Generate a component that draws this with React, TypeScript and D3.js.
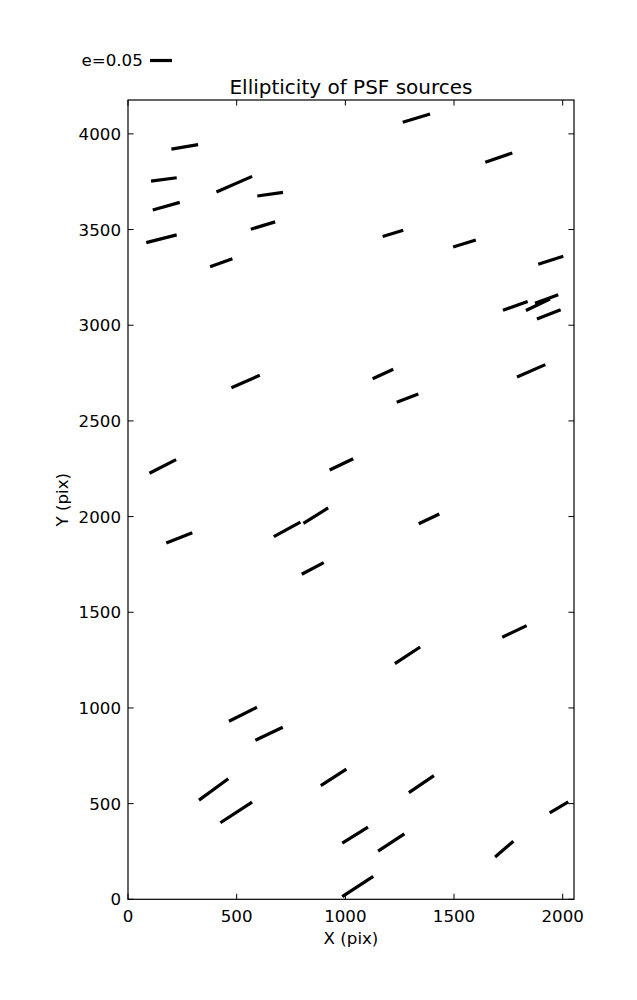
import React from "react";
import * as d3 from "d3";

// Source positions (pix), ellipticity and orientation angle (deg, counter-clockwise)
const srcX = [261, 165, 489, 654, 176, 621, 154, 429, 1327, 1706, 1219, 1548, 1945, 1782, 1886, 1926, 1936, 541, 160, 982, 236, 732, 864, 850, 1173, 1286, 1855, 1385, 529, 649, 946, 394, 498, 1778, 1286, 1350, 1983, 1045, 1211, 1731, 1057];
const srcY = [3932, 3762, 3737, 3685, 3622, 3521, 3452, 3327, 4082, 3876, 3480, 3427, 3340, 3101, 3107, 3137, 3057, 2706, 2262, 2273, 1889, 1933, 2005, 1729, 2745, 2619, 2762, 1988, 967, 865, 637, 574, 454, 1400, 1275, 602, 481, 335, 297, 262, 67];
const srcE = [0.0616, 0.0589, 0.0886, 0.059, 0.0638, 0.0577, 0.0713, 0.0539, 0.0649, 0.065, 0.049, 0.054, 0.0597, 0.0594, 0.0605, 0.0564, 0.0579, 0.0704, 0.068, 0.0594, 0.0636, 0.0687, 0.0661, 0.0565, 0.0515, 0.0526, 0.0701, 0.0517, 0.0711, 0.0689, 0.0691, 0.0823, 0.086, 0.0614, 0.0689, 0.0687, 0.0491, 0.0688, 0.0715, 0.0548, 0.0843];
const srcTheta = [9.8, 7.3, 23.7, 8.2, 15.9, 16.7, 14.2, 19.7, 16.9, 19.0, 17.3, 17.1, 17.7, 19.2, 25.6, 20.3, 21.4, 23.6, 27.0, 25.6, 21.6, 28.4, 31.8, 27.8, 24.5, 21.0, 23.5, 25.2, 26.6, 25.4, 32.6, 36.0, 33.1, 25.4, 33.4, 34.2, 30.6, 31.9, 33.3, 40.6, 33.3];

const xTicks = [0, 500, 1000, 1500, 2000];
const yTicks = [0, 500, 1000, 1500, 2000, 2500, 3000, 3500, 4000];
const legendE = 0.05;

const W = 637;
const H = 1000;
const L = 128, R = 574, T = 100, B = 899.3;
const FONT = "'DejaVu Sans', sans-serif";

export default function App() {
  const x = d3.scaleLinear().domain([0, 2052]).range([L, R]);
  const y = d3.scaleLinear().domain([0, 4177]).range([B, T]);
  const eLen = d3.scaleLinear().domain([0, 0.05]).range([0, 22]);
  const tick = 5.6;

  const segs = srcX.map((sx, i) => {
    const cx = x(sx), cy = y(srcY[i]);
    const half = eLen(srcE[i]) / 2;
    const a = (srcTheta[i] * Math.PI) / 180;
    const dx = half * Math.cos(a), dy = -half * Math.sin(a);
    return { x1: cx - dx, y1: cy - dy, x2: cx + dx, y2: cy + dy };
  });

  return (
    <svg width={W} height={H} style={{ position: "absolute", left: 0, top: 0, background: "#fff" }}>
      <rect x={0} y={0} width={W} height={H} fill="#fff" />
      {/* legend */}
      <text x={81.5} y={65.5} fontFamily={FONT} fontSize={16.67} fill="#000">e=0.05</text>
      <line x1={150} x2={150 + eLen(legendE)} y1={60.5} y2={60.5} stroke="#000" strokeWidth={3.2} />
      {/* title */}
      <text x={(L + R) / 2} y={93.5} textAnchor="middle" fontFamily={FONT} fontSize={20} fill="#000">Ellipticity of PSF sources</text>
      {/* whiskers */}
      {segs.map((s, i) => (
        <line key={i} x1={s.x1} y1={s.y1} x2={s.x2} y2={s.y2} stroke="#000" strokeWidth={3.2} strokeLinecap="butt" />
      ))}
      {/* ticks */}
      {xTicks.map((t) => (
        <g key={"xt" + t}>
          <line x1={x(t)} x2={x(t)} y1={B} y2={B - tick} stroke="#000" strokeWidth={1} />
          <line x1={x(t)} x2={x(t)} y1={T} y2={T + tick} stroke="#000" strokeWidth={1} />
          <text x={x(t)} y={922} textAnchor="middle" fontFamily={FONT} fontSize={16.67} fill="#000">{t}</text>
        </g>
      ))}
      {yTicks.map((t) => (
        <g key={"yt" + t}>
          <line x1={L} x2={L + tick} y1={y(t)} y2={y(t)} stroke="#000" strokeWidth={1} />
          <line x1={R} x2={R - tick} y1={y(t)} y2={y(t)} stroke="#000" strokeWidth={1} />
          <text x={121} y={y(t)} dy="0.36em" textAnchor="end" fontFamily={FONT} fontSize={16.67} fill="#000">{t}</text>
        </g>
      ))}
      {/* frame */}
      <rect x={L} y={T} width={R - L} height={B - T} fill="none" stroke="#000" strokeWidth={1.2} />
      {/* axis labels */}
      <text x={(L + R) / 2} y={944} textAnchor="middle" fontFamily={FONT} fontSize={16.67} fill="#000">X (pix)</text>
      <text transform={`translate(68,${(T + B) / 2}) rotate(-90)`} textAnchor="middle" fontFamily={FONT} fontSize={16.67} fill="#000">Y (pix)</text>
    </svg>
  );
}
